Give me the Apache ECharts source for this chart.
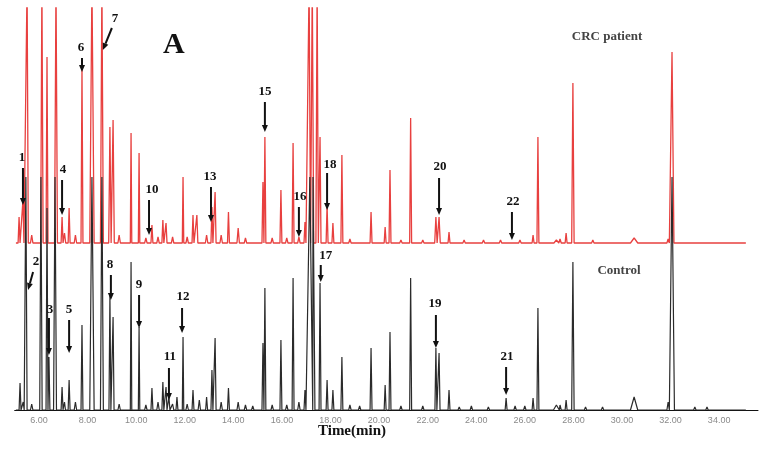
<!DOCTYPE html>
<html><head><meta charset="utf-8">
<script src="https://cdn.jsdelivr.net/npm/echarts@6/dist/echarts.min.js"></script>
<style>html,body{margin:0;padding:0;background:#fff}#c{width:763px;height:452px}</style>
</head><body><div id="c"></div>
<script>
// x-axis tick labels (minutes)
const tickValues = [6, 8, 10, 12, 14, 16, 18, 20, 22, 24, 26, 28, 30, 32, 34];

// Control (black) trace: retention time (min), relative peak height, peak half-width (min)
const controlTimes   = [5.22, 5.35, 5.46, 5.70, 6.08, 6.33, 6.41, 6.66, 6.95, 7.05, 7.24, 7.50, 7.77, 8.18, 8.59, 8.92, 9.05, 9.30, 9.79, 10.12, 10.40, 10.65, 10.90, 11.10, 11.23, 11.35, 11.50, 11.68, 11.93, 12.10, 12.34, 12.60, 12.90, 13.12, 13.25, 13.50, 13.80, 14.20, 14.50, 14.80, 15.22, 15.30, 15.60, 15.96, 16.20, 16.46, 16.70, 16.95, 17.15, 17.28, 17.57, 17.86, 18.10, 18.47, 18.80, 19.20, 19.67, 20.25, 20.45, 20.90, 21.30, 21.80, 22.34, 22.47, 22.88, 23.30, 23.80, 24.50, 25.23, 25.60, 26.00, 26.34, 26.54, 27.30, 27.45, 27.70, 27.98, 28.50, 29.20, 30.50, 31.90, 32.06, 33.00, 33.50, 34.30];
const controlHeights = [27, 8, 233, 6, 233, 202, 53, 233, 23, 8, 30, 8, 85, 233, 233, 115, 93, 6, 148, 83, 5, 22, 8, 28, 23, 13, 6, 13, 73, 6, 20, 10, 13, 40, 72, 8, 22, 8, 5, 4, 67, 122, 5, 70, 5, 132, 8, 20, 233, 233, 127, 30, 20, 53, 5, 4, 62, 25, 78, 4, 132, 4, 62, 57, 20, 3, 4, 3, 12, 4, 4, 12, 102, 5, 5, 10, 148, 3, 3, 13, 8, 233, 3, 3, 2];
const controlWidths  = [0.04, 0.04, 0.05, 0.05, 0.05, 0.04, 0.04, 0.06, 0.04, 0.04, 0.04, 0.05, 0.04, 0.09, 0.06, 0.04, 0.04, 0.05, 0.03, 0.03, 0.05, 0.04, 0.05, 0.04, 0.04, 0.04, 0.05, 0.04, 0.03, 0.05, 0.04, 0.05, 0.04, 0.04, 0.04, 0.05, 0.04, 0.05, 0.05, 0.05, 0.04, 0.04, 0.05, 0.04, 0.05, 0.04, 0.05, 0.04, 0.12, 0.08, 0.04, 0.04, 0.04, 0.04, 0.05, 0.05, 0.04, 0.04, 0.04, 0.05, 0.04, 0.05, 0.04, 0.04, 0.04, 0.05, 0.05, 0.05, 0.04, 0.05, 0.05, 0.04, 0.04, 0.12, 0.05, 0.04, 0.05, 0.05, 0.05, 0.15, 0.05, 0.10, 0.05, 0.05, 0.05];

// CRC patient (red) trace
const patientTimes   = [5.18, 5.34, 5.51, 5.70, 6.12, 6.33, 6.70, 6.95, 7.05, 7.24, 7.50, 7.77, 8.18, 8.59, 8.92, 9.05, 9.30, 9.79, 10.12, 10.40, 10.65, 10.90, 11.10, 11.23, 11.50, 11.93, 12.10, 12.34, 12.50, 12.90, 13.12, 13.25, 13.50, 13.80, 14.20, 14.50, 15.22, 15.30, 15.60, 15.96, 16.20, 16.46, 16.70, 16.95, 17.12, 17.25, 17.45, 17.57, 17.86, 18.10, 18.47, 18.80, 19.67, 20.25, 20.45, 20.90, 21.30, 21.80, 22.34, 22.47, 22.88, 23.50, 24.30, 25.00, 25.80, 26.34, 26.54, 27.30, 27.45, 27.70, 27.98, 28.80, 30.50, 31.90, 32.06, 33.20];
const patientHeights = [26, 43, 260, 8, 260, 186, 260, 26, 10, 35, 8, 175, 260, 260, 116, 123, 8, 110, 90, 5, 18, 6, 23, 20, 6, 66, 6, 28, 28, 8, 36, 51, 8, 31, 15, 5, 61, 106, 5, 53, 5, 100, 6, 21, 260, 260, 260, 106, 38, 20, 88, 4, 31, 16, 73, 3, 125, 3, 26, 26, 11, 3, 3, 3, 3, 8, 106, 3, 4, 10, 160, 3, 5, 4, 191, 2];
const patientWidths  = [0.04, 0.04, 0.05, 0.05, 0.05, 0.04, 0.06, 0.04, 0.05, 0.04, 0.05, 0.04, 0.09, 0.06, 0.05, 0.05, 0.05, 0.03, 0.03, 0.05, 0.04, 0.05, 0.04, 0.04, 0.05, 0.03, 0.05, 0.04, 0.04, 0.05, 0.04, 0.04, 0.05, 0.04, 0.05, 0.05, 0.04, 0.04, 0.05, 0.04, 0.05, 0.04, 0.05, 0.04, 0.06, 0.06, 0.05, 0.04, 0.04, 0.04, 0.04, 0.05, 0.04, 0.04, 0.04, 0.05, 0.04, 0.05, 0.05, 0.05, 0.04, 0.05, 0.05, 0.05, 0.05, 0.04, 0.04, 0.10, 0.05, 0.04, 0.05, 0.05, 0.15, 0.05, 0.08, 0.05];

const runStart = 5.05, runEnd = 35.1;

// Peak annotations
const annLabels = ['1','2','3','4','5','6','7','8','9','10','11','12','13','15','16','17','18','19','20','21','22'];
const annTimes  = [5.34, 5.55, 6.41, 6.95, 7.24, 7.77, 8.63, 8.96, 10.12, 10.53, 11.35, 11.89, 13.08, 15.30, 16.70, 17.60, 17.86, 22.34, 22.47, 25.23, 25.47];
// layout of annotations (pixels)
const annTipY   = [205, 290, 355, 215, 353, 72, 50, 300, 328, 235, 400, 333, 222, 132, 237, 282, 210, 348, 215, 395, 240];
const annTailY  = [168, 272, 318, 180, 320, 58, 28, 275, 295, 200, 368, 308, 187, 102, 207, 265, 173, 315, 178, 367, 212];
const annTailDx = [0, 5, 0, 0, 0, 0, 9, 0, 0, 0, 0, 0, 0, 0, 0, 0, 0, 0, 0, 0, 0];
const annLabelDx= [-1, 8, 1, 1, 0, -1, 12, -1, 0, 3, 1, 1, -1, 0, 1, 5, 3, -1, 1, 1, 1];
const annLabelY = [158, 262, 310, 170, 310, 48, 19, 265, 285, 190, 357, 297, 177, 92, 197, 256, 165, 304, 167, 357, 202];

function buildTrace(times, heights, widths) {
  const idx = times.map((t, i) => i).sort((a, b) => times[a] - times[b]);
  const pts = [[runStart, 0]];
  let prevEnd = runStart;
  idx.forEach(i => {
    const t = times[i], h = heights[i], w = widths[i];
    const s = Math.max(t - w, prevEnd);
    pts.push([s, 0], [t, h], [t + w, 0]);
    prevEnd = t + w;
  });
  pts.push([runEnd, 0]);
  return pts;
}

const chart = echarts.init(document.getElementById('c'), null, {renderer: 'canvas'});
const serif = '"Liberation Serif", "DejaVu Serif", serif';

chart.setOption({
  animation: false,
  backgroundColor: '#fff',
  grid: {left: 14.7, right: 5, top: 8, bottom: 42},
  xAxis: {
    type: 'value', min: 5, max: 35.6,
    axisLine: {show: true, onZero: false, lineStyle: {color: '#111', width: 1}},
    axisTick: {show: false},
    splitLine: {show: false},
    axisLabel: {
      customValues: tickValues,
      formatter: v => v.toFixed(2),
      color: '#8a8a8a', fontSize: 9, margin: 6, fontFamily: 'Arial, "Liberation Sans", sans-serif'
    }
  },
  yAxis: [
    {type: 'value', min: 0, max: 402, show: false, splitLine: {show: false}},
    {type: 'value', min: -167, max: 235, show: false, splitLine: {show: false}}
  ],
  series: [
    {
      name: 'CRC patient', type: 'line', yAxisIndex: 1, showSymbol: false, symbol: 'none',
      data: buildTrace(patientTimes, patientHeights, patientWidths),
      lineStyle: {color: '#e8403f', width: 1.3}, clip: true, z: 2
    },
    {
      name: 'Control', type: 'line', yAxisIndex: 0, showSymbol: false, symbol: 'none',
      data: buildTrace(controlTimes, controlHeights, controlWidths),
      lineStyle: {color: '#2b2b2b', width: 1.2}, clip: true, z: 3
    }
  ]
});

const graphics = [
  {type: 'text', left: 163, top: 30, style: {text: 'A', font: 'bold 30px ' + serif, fill: '#111'}},
  {type: 'text', x: 607, y: 37, style: {text: 'CRC patient', font: 'bold 13px ' + serif, fill: '#444', align: 'center', verticalAlign: 'middle'}},
  {type: 'text', x: 619, y: 271, style: {text: 'Control', font: 'bold 13px ' + serif, fill: '#444', align: 'center', verticalAlign: 'middle'}},
  {type: 'text', x: 352, y: 431, style: {text: 'Time(min)', font: 'bold 15px ' + serif, fill: '#111', align: 'center', verticalAlign: 'middle'}}
];

annLabels.forEach((lab, i) => {
  const px = chart.convertToPixel({xAxisIndex: 0}, annTimes[i]);
  const tipX = px, tipY = annTipY[i];
  const tailX = px + annTailDx[i], tailY = annTailY[i];
  const ang = Math.atan2(tipY - tailY, tipX - tailX);
  const hl = 7, hw = 3;
  const bx = tipX - hl * Math.cos(ang), by = tipY - hl * Math.sin(ang);
  const nx = -Math.sin(ang), ny = Math.cos(ang);
  graphics.push({type: 'line', shape: {x1: tailX, y1: tailY, x2: bx, y2: by}, style: {stroke: '#111', lineWidth: 2}, z: 10});
  graphics.push({type: 'polygon', shape: {points: [[tipX, tipY], [bx + nx * hw, by + ny * hw], [bx - nx * hw, by - ny * hw]]}, style: {fill: '#111'}, z: 10});
  graphics.push({type: 'text', x: px + annLabelDx[i], y: annLabelY[i], style: {text: lab, font: 'bold 13px ' + serif, fill: '#111', align: 'center', verticalAlign: 'middle'}, z: 10});
});

chart.setOption({graphic: graphics});
</script>
</body></html>
